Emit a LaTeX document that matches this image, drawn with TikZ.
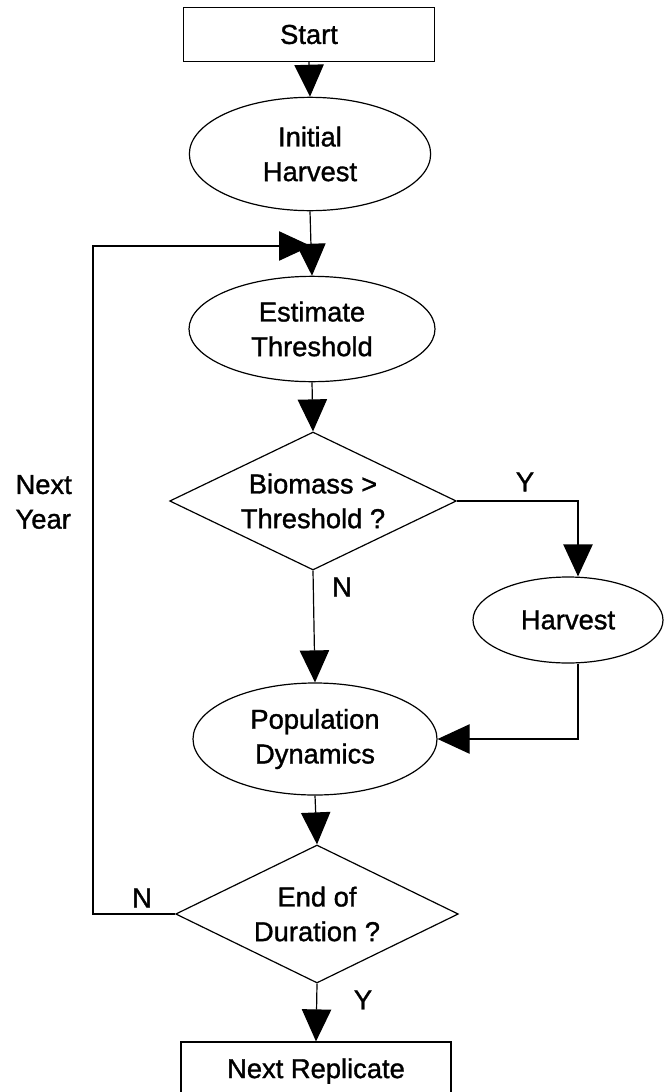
\documentclass[tikz,border=0pt]{standalone}
\usepackage{fontspec}
\setmainfont[FakeBold=1.2]{Liberation Sans}
\usetikzlibrary{shapes.geometric,arrows.meta}
\begin{document}
\begin{tikzpicture}[x=0.75pt,y=-0.75pt,
  every node/.style={font=\fontsize{20.5}{26}\selectfont, align=center, inner sep=0pt},
  procbox/.style={draw, rectangle},
  oval/.style={draw, ellipse},
  decision/.style={draw, diamond, aspect=2.08},
  lbl/.style={font=\fontsize{20.5}{26}\selectfont},
  arr/.style={-{Triangle[length=24pt,width=22pt]}},
  line width=0.9pt
]
\useasboundingbox (0,0) rectangle (666,1092);
\clip (0,0) rectangle (666,1092);

\node[procbox, minimum width=188pt, minimum height=40pt] (start) at (309,34.5) {Start};
\node[oval, minimum width=181pt, minimum height=85pt] (init) at (310,154) {Initial\\Harvest};
\node[oval, minimum width=184.5pt, minimum height=79pt] (est) at (312,329) {Estimate\\Threshold};
\node[decision, minimum width=215pt, minimum height=103.5pt] (bio) at (313,501) {Biomass >\\Threshold ?};
\node[oval, minimum width=142.5pt, minimum height=64.5pt] (harv) at (568,620) {Harvest};
\node[oval, minimum width=183pt, minimum height=84pt] (pop) at (315,739) {Population\\Dynamics};
\node[decision, minimum width=212pt, minimum height=103.5pt] (end) at (317,914) {End of\\Duration ?};
\node[procbox, minimum width=202.5pt, minimum height=43.5pt] (next) at (316,1071) {Next Replicate};

\coordinate (merge) at (311,246);
\coordinate (c1) at (93,914);
\coordinate (c2) at (93,246);

\draw[arr] (start.south) -- (init.north);
\draw (init.south) -- (merge);
\draw[arr] (merge) -- (est.north);
\draw[arr] (end.west) -- (c1) -- (c2) -- (merge);
\draw[arr] (est.south) -- (bio.north);
\draw[arr] (bio.east) -| ([xshift=7.5pt]harv.north);
\draw[arr] (bio.south) -- (pop.north);
\draw[arr] ([xshift=7.5pt]harv.south) |- (pop.east);
\draw[arr] (pop.south) -- (end.north);
\draw[arr] (end.south) -- (next.north);

\node[lbl] (ly1) at (525,482) {Y};
\node[lbl] (ln1) at (342,587) {N};
\node[lbl] (ln2) at (142,898) {N};
\node[lbl] (ly2) at (363,1000) {Y};
\node[lbl, align=left, anchor=west] (ny) at (15,502) {Next\\Year};
\end{tikzpicture}
\end{document}
